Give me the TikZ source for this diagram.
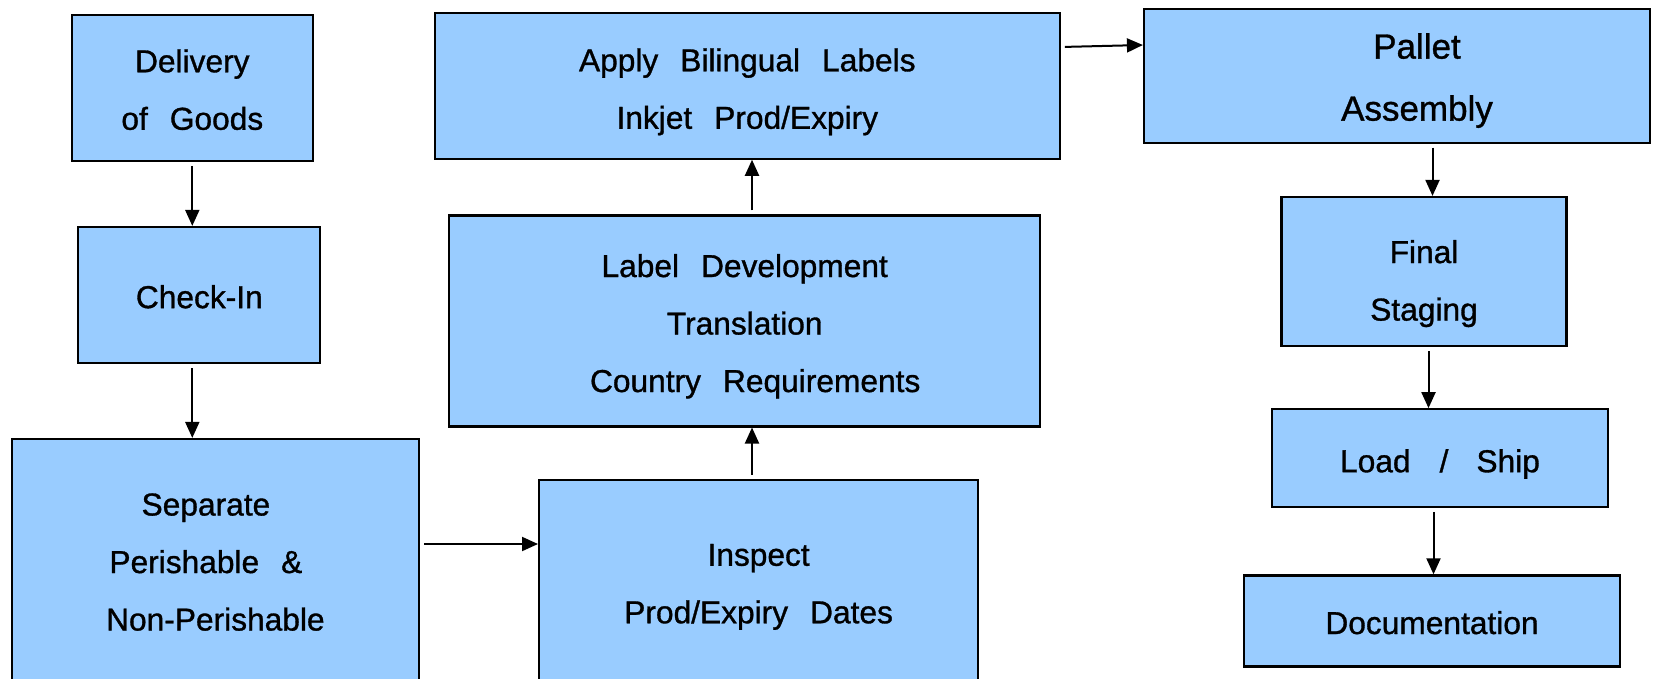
\documentclass[tikz,border=0pt]{standalone}
\usepackage{fontspec}
\setmainfont{Liberation Sans}[WordSpace=2.5, FakeBold=1]
\usetikzlibrary{arrows.meta}
\definecolor{boxblue}{HTML}{99CCFF}
\newcommand\tx[3]{\kern#1\raisebox{#2}[\height][\depth]{\begin{tabular}{@{}c@{}}#3\end{tabular}}\kern-#1}
\tikzset{
  stepbox/.style={draw=black, line width=2.2pt, fill=boxblue, inner sep=0pt,
    font=\fontsize{31.7pt}{57.5pt}\selectfont},
  bigbox/.style={stepbox, font=\fontsize{35pt}{62pt}\selectfont},
  arr/.style={line width=2pt, -{Triangle[length=16pt,width=14pt]}, shorten <=4pt}
}
\begin{document}
\begin{tikzpicture}[x=1pt,y=-1pt]
\useasboundingbox (0,0) rectangle (1680,678);
\node[stepbox, minimum width=241pt, minimum height=145.7pt] (del) at (192.3,87.9) {\tx{0pt}{-1.6pt}{Delivery\\of Goods}};
\node[stepbox, minimum width=242pt, minimum height=136pt] (chk) at (199.3,295) {\tx{0pt}{-1.6pt}{Check-In}};
\node[stepbox, minimum width=407pt, minimum height=245pt] (sep) at (215.4,561.5) {\tx{0pt}{0pt}{Separate\rule{19pt}{0pt}\\Perishable \&\rule{19pt}{0pt}\\Non-Perishable}};
\node[stepbox, minimum width=439pt, minimum height=206pt] (insp) at (758.6,583) {\tx{0pt}{0pt}{Inspect\\Prod/Expiry Dates}};
\node[stepbox, minimum width=591pt, minimum height=211pt] (lab) at (744.7,320.9) {\tx{0pt}{-2.1pt}{Label Development\\Translation\\\rule{21pt}{0pt}Country Requirements}};
\node[stepbox, minimum width=625pt, minimum height=145.7pt] (app) at (747.3,85.8) {\tx{0pt}{-2.7pt}{Apply Bilingual Labels\\Inkjet Prod/Expiry}};
\node[bigbox, minimum width=506pt, minimum height=134pt] (pal) at (1397,75.6) {\tx{20pt}{-1.6pt}{Pallet\\Assembly}};
\node[stepbox, minimum width=285pt, minimum height=149pt] (fin) at (1424,271.5) {\tx{0pt}{-8.8pt}{Final\\Staging}};
\node[stepbox, minimum width=336pt, minimum height=97.5pt] (load) at (1440,458) {\tx{0pt}{-2.7pt}{Load \hspace{7pt}/ \hspace{6pt}Ship}};
\node[stepbox, minimum width=376pt, minimum height=91pt] (doc) at (1432,620.9) {\tx{0pt}{-1.6pt}{Documentation}};

\coordinate (yS) at (0,544);
\coordinate (xL) at (752,0);
\coordinate (xP) at (1432.5,0);
\coordinate (xF) at (1428.5,0);
\coordinate (xD) at (1433.5,0);
\coordinate (yA1) at (0,47);
\coordinate (yA2) at (0,45);

\draw[arr] (del.south) -- (chk.north -| del.south);
\draw[arr] (chk.south -| del.south) -- (sep.north -| del.south);
\draw[arr] (sep.east |- yS) -- (insp.west |- yS);
\draw[arr] (insp.north -| xL) -- (lab.south -| xL);
\draw[arr] (lab.north -| xL) -- (app.south -| xL);
\draw[arr] (app.east |- yA1) -- (pal.west |- yA2);
\draw[arr] (pal.south -| xP) -- (fin.north -| xP);
\draw[arr] (fin.south -| xF) -- (load.north -| xF);
\draw[arr] (load.south -| xD) -- (doc.north -| xD);
\end{tikzpicture}
\end{document}
